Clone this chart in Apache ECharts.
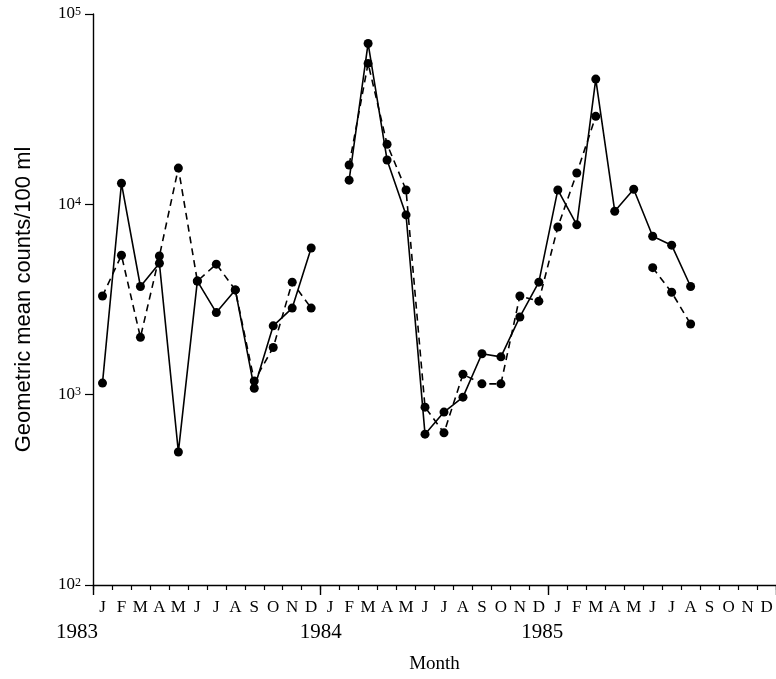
<!DOCTYPE html>
<html>
<head>
<meta charset="utf-8">
<title>Geometric mean counts</title>
<script src="https://cdn.jsdelivr.net/npm/echarts@6/dist/echarts.min.js"></script>
<style>
    html, body { margin: 0; padding: 0; background: #fff; }
    #chart { width: 776px; height: 679px; }
</style>
</head>
<body>
<div id="chart"></div>
<script>
var years = ["1983", "1984", "1985"];
var monthLetters = ["J", "F", "M", "A", "M", "J", "J", "A", "S", "O", "N", "D"];
var yExponents = [2, 3, 4, 5]; // 10^2 .. 10^5

// 实线数据 (36个月, null = 无数据)
var solidData = [
    1150, 12900, 3700, 4900, 500, 3950, 2700, 3550, 1080, 2300, 2850, 5900,
    null, 13400, 70000, 17100, 8800, 620, 810, 970, 1640, 1580, 2560, 3900,
    11900, 7800, 45500, 9200, 12000, 6800, 6100, 3700, null, null, null, null
];
// 虚线数据
var dashedData = [
    3300, 5400, 2000, 5350, 15500, 3950, 4850, 3550, 1180, 1770, 3900, 2850,
    null, 16100, 55000, 20700, 11900, 860, 630, 1280, 1140, 1140, 3300, 3100,
    7600, 14600, 29000, null, null, 4650, 3450, 2350, null, null, null, null
];

var SERIF = "'Liberation Serif', 'DejaVu Serif', serif";
var SANS = "'Liberation Sans', Arial, sans-serif";

// 类目: 年-月序号, 显示时只取月份字母
var categories = [];
years.forEach(function(y) {
    monthLetters.forEach(function(m, i) {
        categories.push(y + "-" + i);
    });
});

var gridLeft = 93, gridRight = 0, gridTop = 14, gridBottom = 94;
var plotW = 776 - gridLeft - gridRight;
// 年份标签的中心位置
var yearCenters = [77, gridLeft + plotW / 3, gridLeft + plotW * 2 / 3 - 6];

var chart = echarts.init(document.getElementById("chart"));
chart.setOption({
    animation: false,
    backgroundColor: "#fff",
    grid: { left: gridLeft, right: gridRight, top: gridTop, bottom: gridBottom },
    xAxis: [{
        type: "category",
        data: categories,
        boundaryGap: true,
        name: "Month",
        nameLocation: "middle",
        nameGap: 70,
        nameTextStyle: { fontFamily: SERIF, fontSize: 19, color: "#000" },
        axisLine: { lineStyle: { color: "#000", width: 1.4 } },
        axisTick: { show: true, length: 5, lineStyle: { color: "#000", width: 1.2 } },
        axisLabel: {
            interval: 0,
            margin: 14,
            fontFamily: SERIF,
            fontSize: 17,
            color: "#000",
            formatter: function(v) {
                return monthLetters[+v.split("-")[1]];
            }
        },
        splitLine: { show: false }
    }, {
        // 年份分隔的长刻度
        type: "category",
        data: years,
        position: "bottom",
        boundaryGap: true,
        axisLine: { show: false },
        axisTick: { show: true, length: 10, lineStyle: { color: "#000", width: 1.4 } },
        axisLabel: { show: false },
        splitLine: { show: false }
    }],
    yAxis: {
        type: "log",
        logBase: 10,
        min: Math.pow(10, yExponents[0]),
        max: Math.pow(10, yExponents[yExponents.length - 1]),
        name: "Geometric mean counts/100 ml",
        nameLocation: "middle",
        nameGap: 58,
        nameTextStyle: { fontFamily: SANS, fontSize: 22, color: "#000" },
        axisLine: { show: true, lineStyle: { color: "#000", width: 1.4 } },
        axisTick: { show: true, length: 8, lineStyle: { color: "#000", width: 1.2 } },
        axisLabel: {
            margin: 12,
            color: "#000",
            formatter: function(v) {
                return "10{s|" + Math.round(Math.log10(v)) + "}";
            },
            rich: {
                s: { fontFamily: SERIF, fontSize: 12, verticalAlign: "top", color: "#000" }
            },
            fontFamily: SERIF,
            fontSize: 17
        },
        splitLine: { show: false }
    },
    graphic: years.map(function(y, i) {
        return {
            type: "text",
            x: yearCenters[i],
            y: 632,
            style: {
                text: y,
                font: "21px " + SERIF,
                fill: "#000",
                align: "center",
                verticalAlign: "middle"
            }
        };
    }),
    series: [{
        name: "dashed",
        type: "line",
        data: dashedData,
        connectNulls: false,
        symbol: "circle",
        symbolSize: 9,
        itemStyle: { color: "#000" },
        lineStyle: { color: "#000", width: 1.6, type: [7, 5] }
    }, {
        name: "solid",
        type: "line",
        data: solidData,
        connectNulls: false,
        symbol: "circle",
        symbolSize: 9,
        itemStyle: { color: "#000" },
        lineStyle: { color: "#000", width: 1.6 }
    }]
});
</script>
</body>
</html>
